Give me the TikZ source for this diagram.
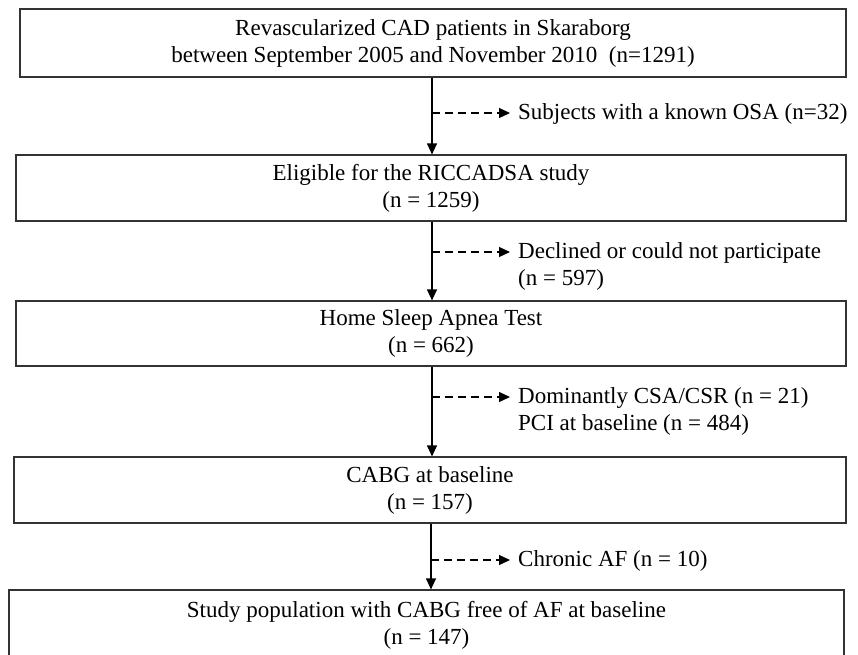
\documentclass[tikz,border=0pt]{standalone}
\usepackage{fontspec}
\setmainfont{Liberation Serif}
\usetikzlibrary{arrows.meta}

\tikzset{
  stage/.style={draw=black!80, line width=1.2pt, rectangle, minimum width=830pt,
    minimum height=66pt, align=center, inner sep=0pt, font=\fontsize{23}{27}\selectfont},
  note/.style={anchor=north west, align=left, inner sep=0pt, font=\fontsize{23}{27}\selectfont},
  flow/.style={line width=1.2pt, -{Triangle[length=11pt,width=10pt]}},
  drop/.style={line width=1.2pt, dash pattern=on 8pt off 5pt, -{Triangle[length=11pt,width=10pt]}},
}

\begin{document}
\begin{tikzpicture}[x=1pt,y=-1pt]
        \clip (0,0) rectangle (858,654);
        \coordinate (spine) at (432,0);
        % boxes
        \node[stage, minimum width=826pt, minimum height=68pt] (cad) at (433,43)
            {Revascularized CAD patients in Skaraborg\\between September 2005 and November 2010~ (n=1291)};
        \node[stage] (elig) at (431,188) {Eligible for the RICCADSA study\\(n = 1259)};
        \node[stage, minimum height=65pt] (hsat) at (431,333.5) {Home Sleep Apnea Test\\(n = 662)};
        \node[stage, minimum width=832pt] (cabg) at (430,490) {CABG at baseline\\(n = 157)};
        \node[stage, minimum width=835pt, minimum height=70pt] (study) at (426.5,625)
            {Study population with CABG free of AF at baseline\\(n = 147)};
        % exclusions
        \coordinate (osatip) at (510,113);
        \coordinate (decltip) at (510,252);
        \coordinate (csatip) at (510,397);
        \coordinate (aftip) at (510,560);
        \node[note] (osa) at ([shift={(8pt,9.5pt)}]osatip) {Subjects with a known OSA (n=32)};
        \node[note] (decl) at ([shift={(8pt,9.5pt)}]decltip) {Declined or could not participate\\(n = 597)};
        \node[note] (csa) at ([shift={(8pt,9.5pt)}]csatip) {Dominantly CSA/CSR (n = 21)\\PCI at baseline (n = 484)};
        \node[note] (af) at ([shift={(8pt,9.5pt)}]aftip) {Chronic AF (n = 10)};
        % arrows
        \draw[flow] (cad.south -| spine) -- (elig.north -| spine);
        \draw[flow] (elig.south -| spine) -- (hsat.north -| spine);
        \draw[flow] (hsat.south -| spine) -- (cabg.north -| spine);
        \draw[flow] ([xshift=-1pt]cabg.south -| spine) -- ([xshift=-1pt]study.north -| spine);
        \draw[drop] (osatip -| spine) -- (osatip);
        \draw[drop] (decltip -| spine) -- (decltip);
        \draw[drop] (csatip -| spine) -- (csatip);
        \draw[drop] ([xshift=-1pt]aftip -| spine) -- (aftip);
    \end{tikzpicture}
\end{document}
